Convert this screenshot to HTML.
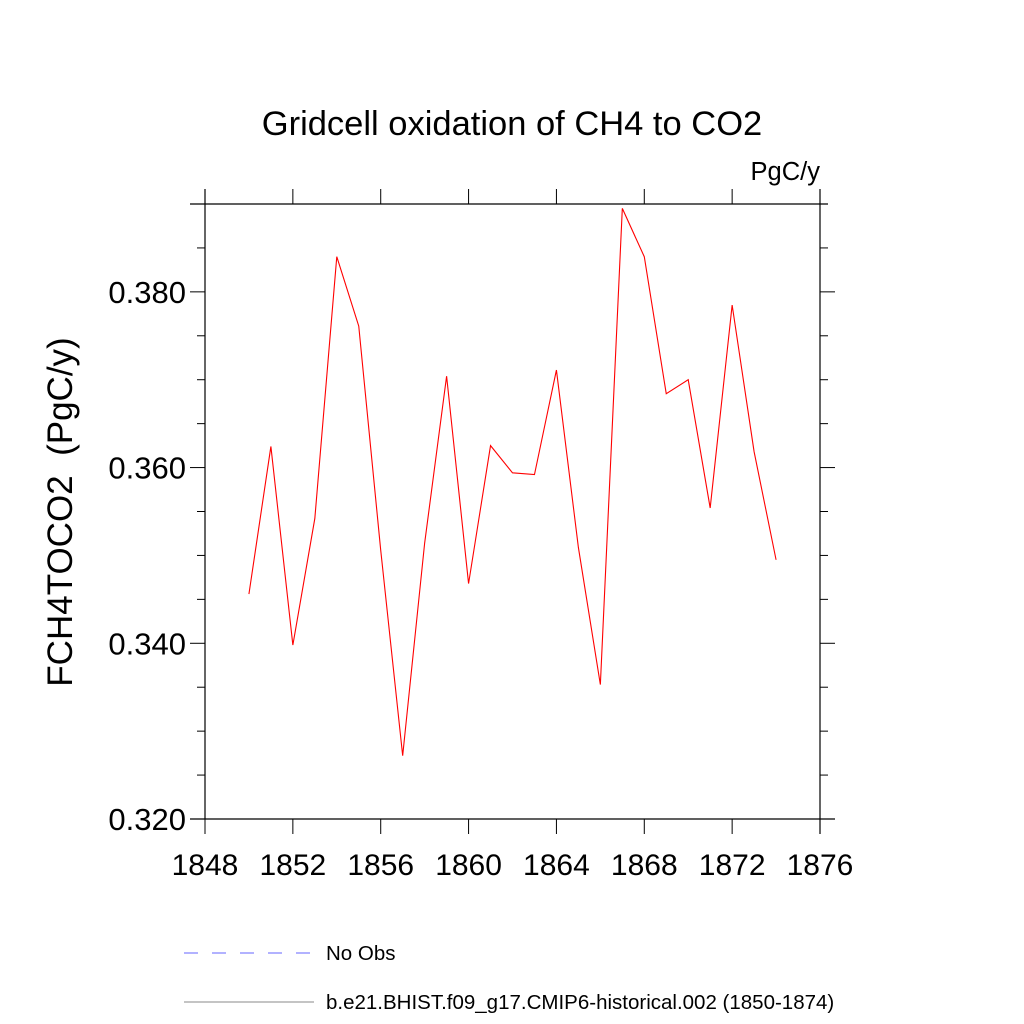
<!DOCTYPE html>
<html><head><meta charset="utf-8"><style>body{margin:0;background:#fff}svg{display:block}</style></head>
<body>
<svg id="chart" width="1024" height="1024" xmlns="http://www.w3.org/2000/svg" font-family="Liberation Sans, sans-serif">
<text x="512" y="135" font-size="34.5" text-anchor="middle">Gridcell oxidation of CH4 to CO2</text>
<text x="820" y="180" font-size="25.5" text-anchor="end">PgC/y</text>
<text transform="translate(72,512) rotate(-90)" font-size="35" text-anchor="middle" xml:space="preserve">FCH4TOCO2  (PgC/y)</text>
<g id="axes"></g>
<g id="series"></g>
<g>
<line x1="184" y1="953" x2="314" y2="953" stroke="#6666ff" stroke-width="1" stroke-dasharray="14,14"/>
<text x="326" y="960" font-size="20.5">No Obs</text>
<line x1="184" y1="1002" x2="314" y2="1002" stroke="#888" stroke-width="1"/>
<text x="326" y="1009" font-size="20.5">b.e21.BHIST.f09_g17.CMIP6-historical.002 (1850-1874)</text>
</g>
</svg>
<script>
const years = [1850,1851,1852,1853,1854,1855,1856,1857,1858,1859,1860,1861,1862,1863,1864,1865,1866,1867,1868,1869,1870,1871,1872,1873,1874];
const values = [0.3456,0.3624,0.3398,0.3542,0.3840,0.3761,0.3506,0.3272,0.3514,0.3704,0.3468,0.3625,0.3594,0.3592,0.3711,0.3509,0.3353,0.3895,0.3840,0.3684,0.3700,0.3554,0.3785,0.3618,0.3495];
const xTicks = [1848,1852,1856,1860,1864,1868,1872,1876];
const yTicks = [0.320,0.340,0.360,0.380];
const yTickLabels = ["0.320","0.340","0.360","0.380"];
const X0=205,X1=820,Y0=819,Y1=204,xmin=1848,xmax=1876,ymin=0.320,ymax=0.390;
const xs=v=>X0+(v-xmin)/(xmax-xmin)*(X1-X0);
const ys=v=>Y0-(v-ymin)/(ymax-ymin)*(Y0-Y1);
const NS="http://www.w3.org/2000/svg";
const ax=document.getElementById('axes');
function mk(t,a,p){const e=document.createElementNS(NS,t);for(const k in a)e.setAttribute(k,a[k]);p.appendChild(e);return e;}
let l;
l=mk('line',{x1:X0,y1:Y1-15,x2:X0,y2:Y0,stroke:'#000','stroke-width':1.2},ax);


l=mk('line',{x1:X1,y1:Y1-15,x2:X1,y2:Y0+15,stroke:'#000','stroke-width':1.2},ax);


l=mk('line',{x1:X0-15,y1:Y1,x2:X1+8,y2:Y1,stroke:'#000','stroke-width':1.2},ax);


l=mk('line',{x1:X0-15,y1:Y0,x2:X1+15,y2:Y0,stroke:'#000','stroke-width':1.2},ax);


xTicks.forEach(v=>{const x=xs(v);
 mk('line',{x1:x,y1:Y0,x2:x,y2:Y0+15,stroke:'#000'},ax);
 mk('line',{x1:x,y1:Y1,x2:x,y2:Y1-15,stroke:'#000'},ax);
 const t=mk('text',{x:x,y:Y0+56,'font-size':30,'text-anchor':'middle'},ax);t.textContent=v;
 
 
});
for(let v=0.320;v<=0.3901;v+=0.005){const y=ys(v);const major=Math.abs((v*1000)%20)<0.01||Math.abs((v*1000)%20-20)<0.01;const len=major?15:8;
 mk('line',{x1:X0-len,y1:y,x2:X0,y2:y,stroke:'#000'},ax);
 mk('line',{x1:X1,y1:y,x2:X1+len,y2:y,stroke:'#000'},ax);}
yTicks.forEach((v,i)=>{const t=mk('text',{x:X0-19,y:ys(v)+11,'font-size':31,'text-anchor':'end'},ax);t.textContent=yTickLabels[i];
 
 
});
const p=mk('polyline',{points:years.map((y,i)=>xs(y)+','+ys(values[i])).join(' '),fill:'none',stroke:'#ff0000','stroke-width':1.1},document.getElementById('series'));


</script>
</body></html>
